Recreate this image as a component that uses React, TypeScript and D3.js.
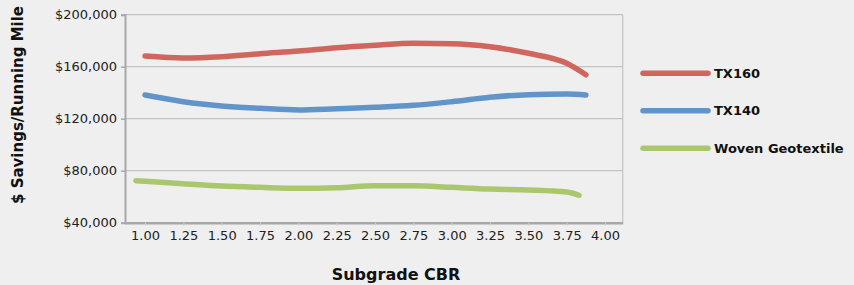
import React, { useRef, useEffect } from 'react';
import * as d3 from 'd3';

// Subgrade CBR values (x) per series
const cbrMain = [1.0, 1.25, 1.5, 1.75, 2.0, 2.25, 2.5, 2.75, 3.0, 3.25, 3.5, 3.75, 3.875];
const cbrWoven = [0.94, 1.25, 1.5, 1.75, 2.0, 2.25, 2.5, 2.75, 3.0, 3.25, 3.5, 3.75, 3.83];

const tx160 = [168200, 166700, 167700, 170000, 172000, 174600, 176500, 178000, 177700, 175400, 170300, 162600, 153800];
const tx140 = [138200, 133100, 129800, 128000, 126700, 127700, 128800, 130300, 133100, 136500, 138500, 139000, 138200];
const woven = [72300, 70000, 68200, 67200, 66500, 66900, 68500, 68500, 67200, 65900, 65200, 63600, 61100];

const seriesNames = ['TX160', 'TX140', 'Woven Geotextile'];
const seriesColors = ['#d0675f', '#6195ca', '#aac76e'];

const yTicks = [40000, 80000, 120000, 160000, 200000];
const xTicks = [1.0, 1.25, 1.5, 1.75, 2.0, 2.25, 2.5, 2.75, 3.0, 3.25, 3.5, 3.75, 4.0];

const W = 854;
const H = 285;

const App = () => {
    const svgRef = useRef<SVGSVGElement>(null);

    useEffect(() => {
        const svg = d3.select(svgRef.current);
        svg.selectAll('*').remove();

        const plot = { left: 125, right: 622.7, top: 14.7, bottom: 222.7 };
        const font = "'DejaVu Sans', sans-serif";

        svg.append('rect').attr('width', W).attr('height', H).attr('fill', '#efefef');

        const x = d3.scaleLinear().domain([0.8695, 4.115]).range([plot.left, plot.right]);
        const y = d3.scaleLinear().domain([40000, 200000]).range([plot.bottom, plot.top]);

        // gridlines
        svg.append('g')
            .selectAll('line')
            .data(yTicks.slice(1))
            .enter().append('line')
            .attr('x1', plot.left).attr('x2', plot.right)
            .attr('y1', d => y(d)).attr('y2', d => y(d))
            .attr('stroke', '#c3c3c3').attr('stroke-width', 1.2);

        // right border
        svg.append('line')
            .attr('x1', plot.right).attr('x2', plot.right)
            .attr('y1', plot.top).attr('y2', plot.bottom)
            .attr('stroke', '#c3c3c3').attr('stroke-width', 1.2);

        const fmt = (d: number) => '$' + d3.format(',')(d);

        const yAxis = svg.append('g')
            .attr('transform', `translate(${plot.left},0)`)
            .call(d3.axisLeft(y).tickValues(yTicks).tickFormat(fmt as any).tickSize(4).tickPadding(4));
        yAxis.select('.domain').attr('stroke', '#a8a8a8').attr('stroke-width', 2);
        yAxis.selectAll('.tick line').attr('stroke', '#a8a8a8').attr('stroke-width', 1.5);
        yAxis.selectAll('text')
            .attr('font-family', font).attr('font-size', 13).attr('fill', '#222');

        const xAxis = svg.append('g')
            .attr('transform', `translate(0,${plot.bottom})`)
            .call(d3.axisBottom(x).tickValues(xTicks).tickFormat(d3.format('.2f') as any).tickSize(3).tickPadding(5).tickSizeOuter(0));
        xAxis.select('.domain').attr('stroke', '#a8a8a8').attr('stroke-width', 2.5);
        xAxis.selectAll('.tick line').attr('stroke', '#cfcfcf');
        xAxis.selectAll('text')
            .attr('font-family', font).attr('font-size', 13).attr('fill', '#222');

        const line = d3.line<[number, number]>()
            .x(d => x(d[0]))
            .y(d => y(d[1]))
            .curve(d3.curveMonotoneX);

        const series = [
            cbrMain.map((c, i) => [c, tx160[i]] as [number, number]),
            cbrMain.map((c, i) => [c, tx140[i]] as [number, number]),
            cbrWoven.map((c, i) => [c, woven[i]] as [number, number]),
        ];

        svg.append('g')
            .selectAll('path')
            .data(series)
            .enter().append('path')
            .attr('d', d => line(d))
            .attr('fill', 'none')
            .attr('stroke', (d, i) => seriesColors[i])
            .attr('stroke-width', 5.5)
            .attr('stroke-linecap', 'round')
            .attr('stroke-linejoin', 'round');

        // legend
        const legendY = [73.3, 110.7, 148.3];
        const legend = svg.append('g')
            .selectAll('g')
            .data(seriesNames)
            .enter().append('g')
            .attr('transform', (d, i) => `translate(0,${legendY[i]})`);
        legend.append('line')
            .attr('x1', 643).attr('x2', 708)
            .attr('stroke', (d, i) => seriesColors[i])
            .attr('stroke-width', 5.5)
            .attr('stroke-linecap', 'round');
        legend.append('text')
            .attr('x', 714).attr('dy', '0.35em')
            .attr('font-family', font).attr('font-weight', 'bold').attr('font-size', 13)
            .attr('fill', '#111')
            .text(d => d);

        // axis titles
        svg.append('text')
            .attr('x', 396).attr('y', 280)
            .attr('text-anchor', 'middle')
            .attr('font-family', font).attr('font-weight', 'bold').attr('font-size', 16)
            .attr('fill', '#111')
            .text('Subgrade CBR');

        svg.append('text')
            .attr('transform', 'translate(23,105) rotate(-90)')
            .attr('text-anchor', 'middle')
            .attr('font-family', font).attr('font-weight', 'bold').attr('font-size', 15)
            .attr('fill', '#111')
            .text('$ Savings/Running Mile');
    }, []);

    return (
        <svg ref={svgRef} width={W} height={H} style={{ position: 'absolute', left: 0, top: 0 }} />
    );
};

export default App;
